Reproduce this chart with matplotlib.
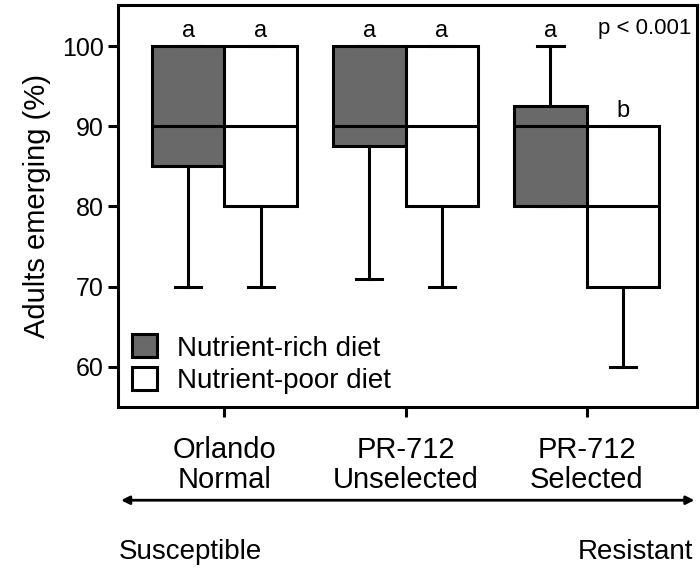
import matplotlib.pyplot as plt
from matplotlib.patches import Patch

plt.rcParams['font.family'] = ['Liberation Sans', 'DejaVu Sans']

# Box statistics (percent adults emerging)
groups = ['Orlando\nNormal', 'PR-712\nUnselected', 'PR-712\nSelected']
rich_low = [70, 71, 80]
rich_q1 = [85, 87.5, 80]
rich_med = [90, 90, 90]
rich_q3 = [100, 100, 92.5]
rich_high = [100, 100, 100]

poor_low = [70, 70, 60]
poor_q1 = [80, 80, 70]
poor_med = [90, 90, 80]
poor_q3 = [100, 100, 90]
poor_high = [100, 100, 90]

rich_letters = ['a', 'a', 'a']
poor_letters = ['a', 'a', 'b']


def make_stats(low, q1, med, q3, high):
    return [dict(whislo=l, q1=a, med=m, q3=b, whishi=h, fliers=[])
            for l, a, m, b, h in zip(low, q1, med, q3, high)]


fig = plt.figure(figsize=(7, 5.73), dpi=100)
ax = fig.add_axes([0.169, 0.29, 0.827, 0.701])

w = 0.40
lw = 2.2
pos = [1, 2, 3]
rich_pos = [p - w / 2 for p in pos]
poor_pos = [p + w / 2 for p in pos]

common = dict(widths=w, patch_artist=True, showfliers=False, capwidths=0.145,
              medianprops=dict(color='black', linewidth=lw),
              whiskerprops=dict(color='black', linewidth=lw),
              capprops=dict(color='black', linewidth=lw))

ax.bxp(make_stats(rich_low, rich_q1, rich_med, rich_q3, rich_high), positions=rich_pos,
       boxprops=dict(facecolor='#696969', edgecolor='black', linewidth=lw), **common)
ax.bxp(make_stats(poor_low, poor_q1, poor_med, poor_q3, poor_high), positions=poor_pos,
       boxprops=dict(facecolor='white', edgecolor='black', linewidth=lw), **common)

# significance letters
for x, top, t in zip(rich_pos, rich_high, rich_letters):
    ax.text(x, top + 0.5, t, ha='center', va='bottom', fontsize=17)
for x, top, t in zip(poor_pos, poor_high, poor_letters):
    ax.text(x, top + 0.5, t, ha='center', va='bottom', fontsize=17)

ax.text(3.58, 102.2, 'p < 0.001', ha='right', va='center', fontsize=16)

ax.set_xlim(0.414, 3.61)
ax.set_ylim(55, 105.1)
ax.set_yticks([60, 70, 80, 90, 100])
ax.set_xticks(pos)
ax.set_xticklabels(groups, fontsize=21, linespacing=1.1)
ax.tick_params(axis='both', width=lw, length=7)
ax.tick_params(axis='y', labelsize=18)
ax.tick_params(axis='x', pad=14)
ax.set_ylabel('Adults emerging (%)', fontsize=21, labelpad=8)
for s in ax.spines.values():
    s.set_linewidth(lw)

handles = [Patch(facecolor='#696969', edgecolor='black', linewidth=lw, label='Nutrient-rich diet'),
           Patch(facecolor='white', edgecolor='black', linewidth=lw, label='Nutrient-poor diet')]
ax.legend(handles=handles, loc='lower left', frameon=False, fontsize=20,
          handlelength=0.9, handleheight=0.9, handletextpad=0.7, labelspacing=0.2,
          borderaxespad=0.2, bbox_to_anchor=(-0.005, -0.01))

# susceptibility arrow below the axes
ax.annotate('', xy=(0.996, 0.127), xytext=(0.169, 0.127), xycoords='figure fraction',
            textcoords='figure fraction',
            arrowprops=dict(arrowstyle='<|-|>', color='black', lw=2, mutation_scale=12))
fig.text(0.169, 0.037, 'Susceptible', ha='left', va='center', fontsize=20)
fig.text(0.99, 0.037, 'Resistant', ha='right', va='center', fontsize=20)

fig.savefig('out.png', dpi=100)
